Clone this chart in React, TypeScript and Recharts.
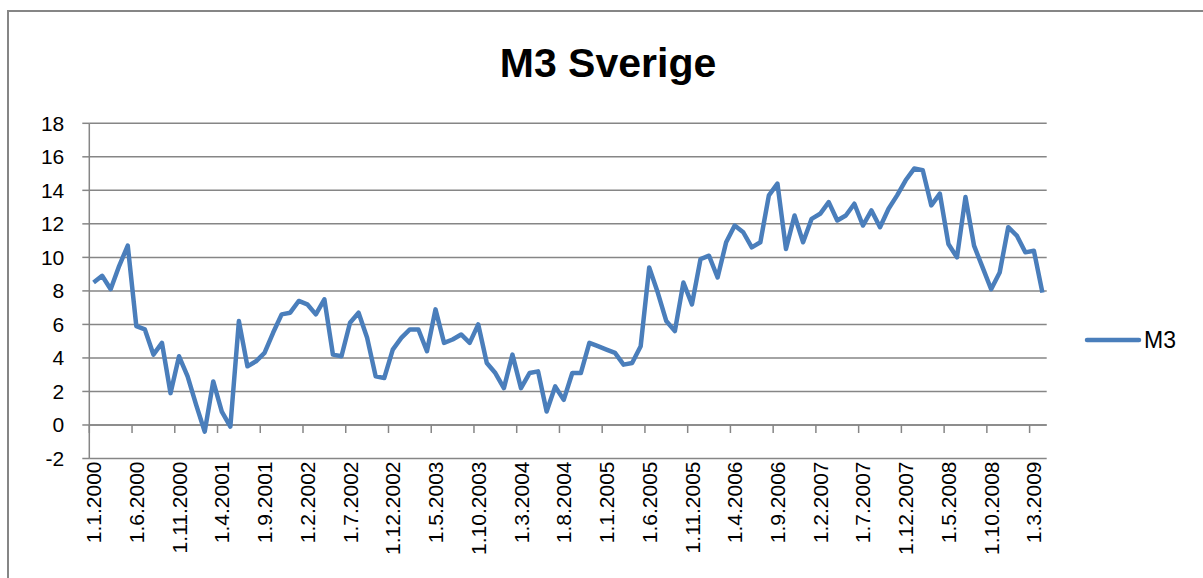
import React from "react";
import {
  LineChart,
  Line,
  XAxis,
  YAxis,
  CartesianGrid,
  ReferenceLine,
} from "recharts";

// ---- data ----
const START_YEAR = 2000;
const MONTH_COUNT = 112; // Jan 2000 .. Apr 2009
const categories: string[] = Array.from({ length: MONTH_COUNT }, (_, i) => {
  const m = (i % 12) + 1;
  const y = START_YEAR + Math.floor(i / 12);
  return `1.${m}.${y}`;
});

const m3Values: number[] = [
  8.5, 8.9, 8.1, 9.5, 10.7, 5.9, 5.7, 4.2, 4.9, 1.9, 4.1, 2.9,
  1.2, -0.4, 2.6, 0.8, -0.1, 6.2, 3.5, 3.8, 4.3, 5.5, 6.6, 6.7,
  7.4, 7.2, 6.6, 7.5, 4.2, 4.1, 6.1, 6.7, 5.2, 2.9, 2.8, 4.5,
  5.2, 5.7, 5.7, 4.4, 6.9, 4.9, 5.1, 5.4, 4.9, 6.0, 3.7, 3.1,
  2.2, 4.2, 2.2, 3.1, 3.2, 0.8, 2.3, 1.5, 3.1, 3.1, 4.9, 4.7,
  4.5, 4.3, 3.6, 3.7, 4.7, 9.4, 7.9, 6.2, 5.6, 8.5, 7.2, 9.9,
  10.1, 8.8, 10.9, 11.9, 11.5, 10.6, 10.9, 13.7, 14.4, 10.5, 12.5, 10.9,
  12.3, 12.6, 13.3, 12.2, 12.5, 13.2, 11.9, 12.8, 11.8, 12.9, 13.7, 14.6,
  15.3, 15.2, 13.1, 13.8, 10.8, 10.0, 13.6, 10.7, 9.4, 8.1, 9.1, 11.8,
  11.3, 10.3, 10.4, 7.9,
];

const xTickLabels: string[] = [
  "1.1.2000", "1.6.2000", "1.11.2000", "1.4.2001", "1.9.2001", "1.2.2002",
  "1.7.2002", "1.12.2002", "1.5.2003", "1.10.2003", "1.3.2004", "1.8.2004",
  "1.1.2005", "1.6.2005", "1.11.2005", "1.4.2006", "1.9.2006", "1.2.2007",
  "1.7.2007", "1.12.2007", "1.5.2008", "1.10.2008", "1.3.2009",
];

const yTicks: number[] = [-2, 0, 2, 4, 6, 8, 10, 12, 14, 16, 18];

const chartData = categories.map((c, i) => ({ idx: i, month: c, M3: m3Values[i] }));
const xTickIdx = xTickLabels.map((l) => categories.indexOf(l));

// ---- layout ----
const W = 1203;
const H = 578;
const PLOT_LEFT = 89.3;
const PLOT_RIGHT = 1046.7;
const PLOT_TOP = 123.3;
const PLOT_BOTTOM = 458.5;
const Y_AXIS_W = 60;
const X_AXIS_H = 110;
const Y_MIN = -2;
const Y_MAX = 18;
const ZERO_Y = PLOT_TOP + ((Y_MAX - 0) / (Y_MAX - Y_MIN)) * (PLOT_BOTTOM - PLOT_TOP);
const HALF_BAND = (PLOT_RIGHT - PLOT_LEFT) / MONTH_COUNT / 2;

const GRAY = "#868686";
const BLUE = "#4a7ebb";
const FONT = "'Liberation Sans', Arial, sans-serif";

function XTick(props: any) {
  const { x, payload } = props;
  const label = categories[payload.value];
  const tx = x - HALF_BAND;
  return (
    <g>
      <line x1={tx} x2={tx} y1={ZERO_Y} y2={ZERO_Y + 8} stroke={GRAY} strokeWidth={1.5} />
      <text
        transform={`translate(${x},${PLOT_BOTTOM + 3}) rotate(-90)`}
        textAnchor="end"
        dy="0.36em"
        fontSize={21}
        fontFamily={FONT}
        fill="#000"
      >
        {label}
      </text>
    </g>
  );
}

export default function App() {
  return (
    <div
      style={{
        position: "absolute",
        left: 0,
        top: 0,
        width: W,
        height: H,
        overflow: "hidden",
        background: "#fff",
      }}
    >
      <div
        style={{
          position: "absolute",
          left: 7,
          top: 10,
          width: 1210,
          height: 620,
          border: `2px solid ${GRAY}`,
          boxSizing: "border-box",
        }}
      />
      <div
        style={{
          position: "absolute",
          left: 0,
          top: 43,
          width: 1216,
          textAlign: "center",
          fontFamily: FONT,
          fontWeight: "bold",
          fontSize: 41,
          lineHeight: "41px",
          color: "#000",
        }}
      >
        M3 Sverige
      </div>
      <div style={{ position: "absolute", left: 0, top: 0 }}>
        <LineChart
          width={W}
          height={H}
          data={chartData}
          margin={{
            top: PLOT_TOP,
            left: PLOT_LEFT - Y_AXIS_W,
            right: W - PLOT_RIGHT,
            bottom: H - PLOT_BOTTOM - X_AXIS_H,
          }}
        >
          <CartesianGrid vertical={false} stroke={GRAY} strokeWidth={1.5} />
          <XAxis
            type="number"
            dataKey="idx"
            domain={[-0.5, MONTH_COUNT - 0.5]}
            ticks={xTickIdx}
            interval={0}
            height={X_AXIS_H}
            axisLine={false}
            tickLine={false}
            tick={<XTick />}
            allowDataOverflow
          />
          <YAxis
            type="number"
            domain={[Y_MIN, Y_MAX]}
            ticks={yTicks}
            interval={0}
            width={Y_AXIS_W}
            axisLine={{ stroke: GRAY, strokeWidth: 1.5 }}
            tickLine={{ stroke: GRAY, strokeWidth: 1.5 }}
            tickSize={7}
            tickMargin={18}
            tick={{ fill: "#000", fontSize: 21, fontFamily: FONT }}
          />
          <ReferenceLine y={0} stroke={GRAY} strokeWidth={1.5} />
          <Line
            type="linear"
            dataKey="M3"
            name="M3"
            stroke={BLUE}
            strokeWidth={4.5}
            dot={false}
            strokeLinejoin="round"
            isAnimationActive={false}
          />
        </LineChart>
      </div>
      <div
        style={{
          position: "absolute",
          left: 1084,
          top: 326,
          display: "flex",
          alignItems: "center",
          fontFamily: FONT,
        }}
      >
        <svg width={58} height={12}>
          <line x1={3} x2={55} y1={6} y2={6} stroke={BLUE} strokeWidth={4.5} strokeLinecap="round" />
        </svg>
        <span style={{ marginLeft: 2, fontSize: 23, lineHeight: "28px", color: "#000" }}>M3</span>
      </div>
    </div>
  );
}
